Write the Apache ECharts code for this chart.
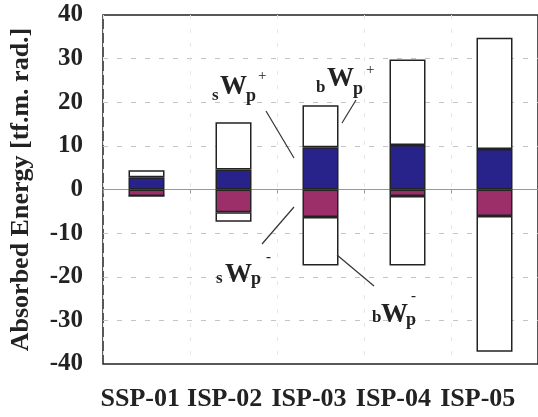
<!DOCTYPE html>
<html>
<head>
<meta charset="utf-8">
<script src="https://cdn.jsdelivr.net/npm/echarts@6/dist/echarts.min.js"></script>
<style>
  html, body { margin: 0; padding: 0; background: #fff; }
  #energy { width: 538px; height: 417px; }
</style>
</head>
<body>
<div id="energy"></div>
<script>
// values (tf.m. rad.)
var categories = ['SSP-01', 'ISP-02', 'ISP-03', 'ISP-04', 'ISP-05'];
var sWpPlus = [2.8, 4.6, 9.7, 10.2, 9.3];       // blue part
var topPlus = [4.4, 15.4, 19.3, 29.8, 34.8];    // top of white box
var sWpMinus = [-1.5, -5.2, -6.3, -1.5, -6.1];  // pink part
var bottomMinus = [-1.5, -7.4, -17.4, -17.4, -37.2]; // bottom of white box
var yTicks = [-40, -30, -20, -10, 0, 10, 20, 30, 40];

var FONT = '"Liberation Serif", "Times New Roman", serif';

function diff(a, b) {
    return a.map(function (v, i) { return +(v - b[i]).toFixed(2); });
}

function piece(text, x, y, size, weight) {
    return {
        type: 'text', x: x, y: y, z: 100,
        style: {
            text: text, fill: '#222', font: (weight || 'bold') + ' ' + size + 'px ' + FONT,
            align: 'left', verticalAlign: 'middle'
        }
    };
}

function leader(x1, y1, x2, y2) {
    return {
        type: 'line', z: 100,
        shape: { x1: x1, y1: y1, x2: x2, y2: y2 },
        style: { stroke: '#333', lineWidth: 1.2 }
    };
}

var chart = echarts.init(document.getElementById('energy'));

var barStyle = function (color) {
    return { color: color, borderColor: '#222', borderWidth: 1.5 };
};

var option = {
    backgroundColor: '#fff',
    animation: false,
    grid: [{
        left: 97, right: 0, top: 15, bottom: 53,
        show: true, borderColor: '#222', borderWidth: 1.5, backgroundColor: 'transparent'
    }, {
        // category labels sit a little tighter than the bars
        left: 98, right: 18, top: 15, bottom: 53
    }],
    xAxis: [{
        type: 'category',
        gridIndex: 0,
        data: categories,
        axisLine: { onZero: true, lineStyle: { color: '#999', width: 1 } },
        axisTick: { show: true, length: 4, lineStyle: { color: '#999' } },
        axisLabel: { show: false },
        splitLine: { show: true, lineStyle: { color: '#e6e6e6', type: [4, 10] } }
    }, {
        type: 'category',
        gridIndex: 1,
        data: categories,
        position: 'bottom',
        axisLine: { onZero: false, show: false },
        axisTick: { show: false },
        axisLabel: {
            interval: 0, margin: 22, color: '#222',
            fontFamily: FONT, fontWeight: 'bold', fontSize: 26
        }
    }],
    yAxis: [{
        type: 'value',
        gridIndex: 0,
        min: yTicks[0], max: yTicks[yTicks.length - 1], interval: 10,
        name: 'Absorbed Energy [tf.m. rad.]',
        nameLocation: 'middle',
        nameGap: 69,
        nameTextStyle: { color: '#222', fontFamily: FONT, fontWeight: 'bold', fontSize: 26 },
        axisLine: { show: false },
        axisTick: { show: false },
        axisLabel: { margin: 20, color: '#222', fontFamily: FONT, fontWeight: 'bold', fontSize: 25 },
        splitLine: {
            showMinLine: false, showMaxLine: false,
            lineStyle: { color: '#c4c4c4', type: [5, 9], width: 1 }
        }
    }, {
        type: 'value', gridIndex: 1, show: false,
        min: yTicks[0], max: yTicks[yTicks.length - 1]
    }],
    series: [{
        name: 'sWp+', type: 'bar', stack: 'w', barWidth: 36,
        itemStyle: barStyle('#27238a'), data: sWpPlus
    }, {
        name: 'bWp+', type: 'bar', stack: 'w', barWidth: 36,
        itemStyle: barStyle('#ffffff'), data: diff(topPlus, sWpPlus)
    }, {
        name: 'sWp-', type: 'bar', stack: 'w', barWidth: 36,
        itemStyle: barStyle('#9c2e6a'), data: sWpMinus
    }, {
        name: 'bWp-', type: 'bar', stack: 'w', barWidth: 36,
        itemStyle: barStyle('#ffffff'), data: diff(bottomMinus, sWpMinus)
    }],
    graphic: [
        // sWp+
        piece('s', 212, 96, 17), piece('W', 220, 87, 27), piece('p', 246, 96, 18), piece('+', 258, 76, 15, 'normal'),
        leader(266, 111, 294, 158),
        // bWp+
        piece('b', 316, 88, 17), piece('W', 327, 79, 27), piece('p', 353, 89, 18), piece('+', 366, 70, 15, 'normal'),
        leader(356, 100, 342, 123),
        // sWp-
        piece('s', 216, 279, 17), piece('W', 225, 275, 27), piece('p', 251, 279, 18), piece('-', 266, 257, 15),
        leader(262, 244, 294, 207),
        // bWp-
        piece('b', 372, 318, 17), piece('W', 381, 315, 27), piece('p', 406, 320, 18), piece('-', 411, 296, 15),
        leader(337, 255, 374, 286)
    ]
};

if (option && typeof option === "object") {
    chart.setOption(option, true);
}
</script>
</body>
</html>
